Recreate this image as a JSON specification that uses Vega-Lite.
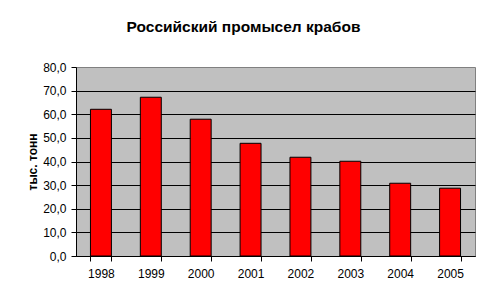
{
  "$schema": "https://vega.github.io/schema/vega-lite/v6.json",
  "autosize": "none",
  "width": 399,
  "height": 189,
  "padding": {"left": 76, "top": 67, "right": 15, "bottom": 46},
  "background": "white",
  "config": {
    "locale": {"number": {"decimal": ",", "thousands": " ", "grouping": [3], "currency": ["", ""]}},
    "font": "Liberation Sans",
    "view": {"fill": "#C0C0C0", "stroke": "#808080", "strokeWidth": 1}
  },
  "title": {
    "text": "Российский промысел крабов",
    "font": "Liberation Sans",
    "fontSize": 15.5,
    "fontWeight": "bold",
    "color": "black",
    "anchor": "middle",
    "dx": -32,
    "offset": 26
  },
  "data": {
    "values": [
      {"year": "1998", "catch": 62.1},
      {"year": "1999", "catch": 67.2},
      {"year": "2000", "catch": 57.9},
      {"year": "2001", "catch": 47.7},
      {"year": "2002", "catch": 41.8},
      {"year": "2003", "catch": 40.1},
      {"year": "2004", "catch": 30.8},
      {"year": "2005", "catch": 28.7}
    ]
  },
  "mark": {"type": "bar", "color": "#FF0000", "stroke": "black", "strokeWidth": 1},
  "encoding": {
    "x": {
      "field": "year",
      "type": "ordinal",
      "scale": {"paddingInner": 0.58, "paddingOuter": 0.29},
      "axis": {
        "title": null,
        "labelAngle": 0,
        "labelFontSize": 12,
        "labelColor": "black",
        "labelPadding": 7,
        "tickBand": "extent",
        "tickColor": "black",
        "tickSize": 5,
        "domainColor": "black",
        "grid": false
      }
    },
    "y": {
      "field": "catch",
      "type": "quantitative",
      "scale": {"domain": [0, 80], "nice": false},
      "axis": {
        "title": "тыс. тонн",
        "titleFontSize": 12,
        "titleFontWeight": "bold",
        "titleColor": "black",
        "titlePadding": 3,
        "values": [0, 10, 20, 30, 40, 50, 60, 70, 80],
        "format": ".1f",
        "labelFontSize": 12,
        "labelColor": "black",
        "labelPadding": 5,
        "tickColor": "black",
        "tickSize": 5,
        "domainColor": "black",
        "grid": true,
        "gridColor": "black",
        "gridOpacity": {"condition": {"test": "datum.value == 80", "value": 0}, "value": 1}
      }
    }
  }
}
